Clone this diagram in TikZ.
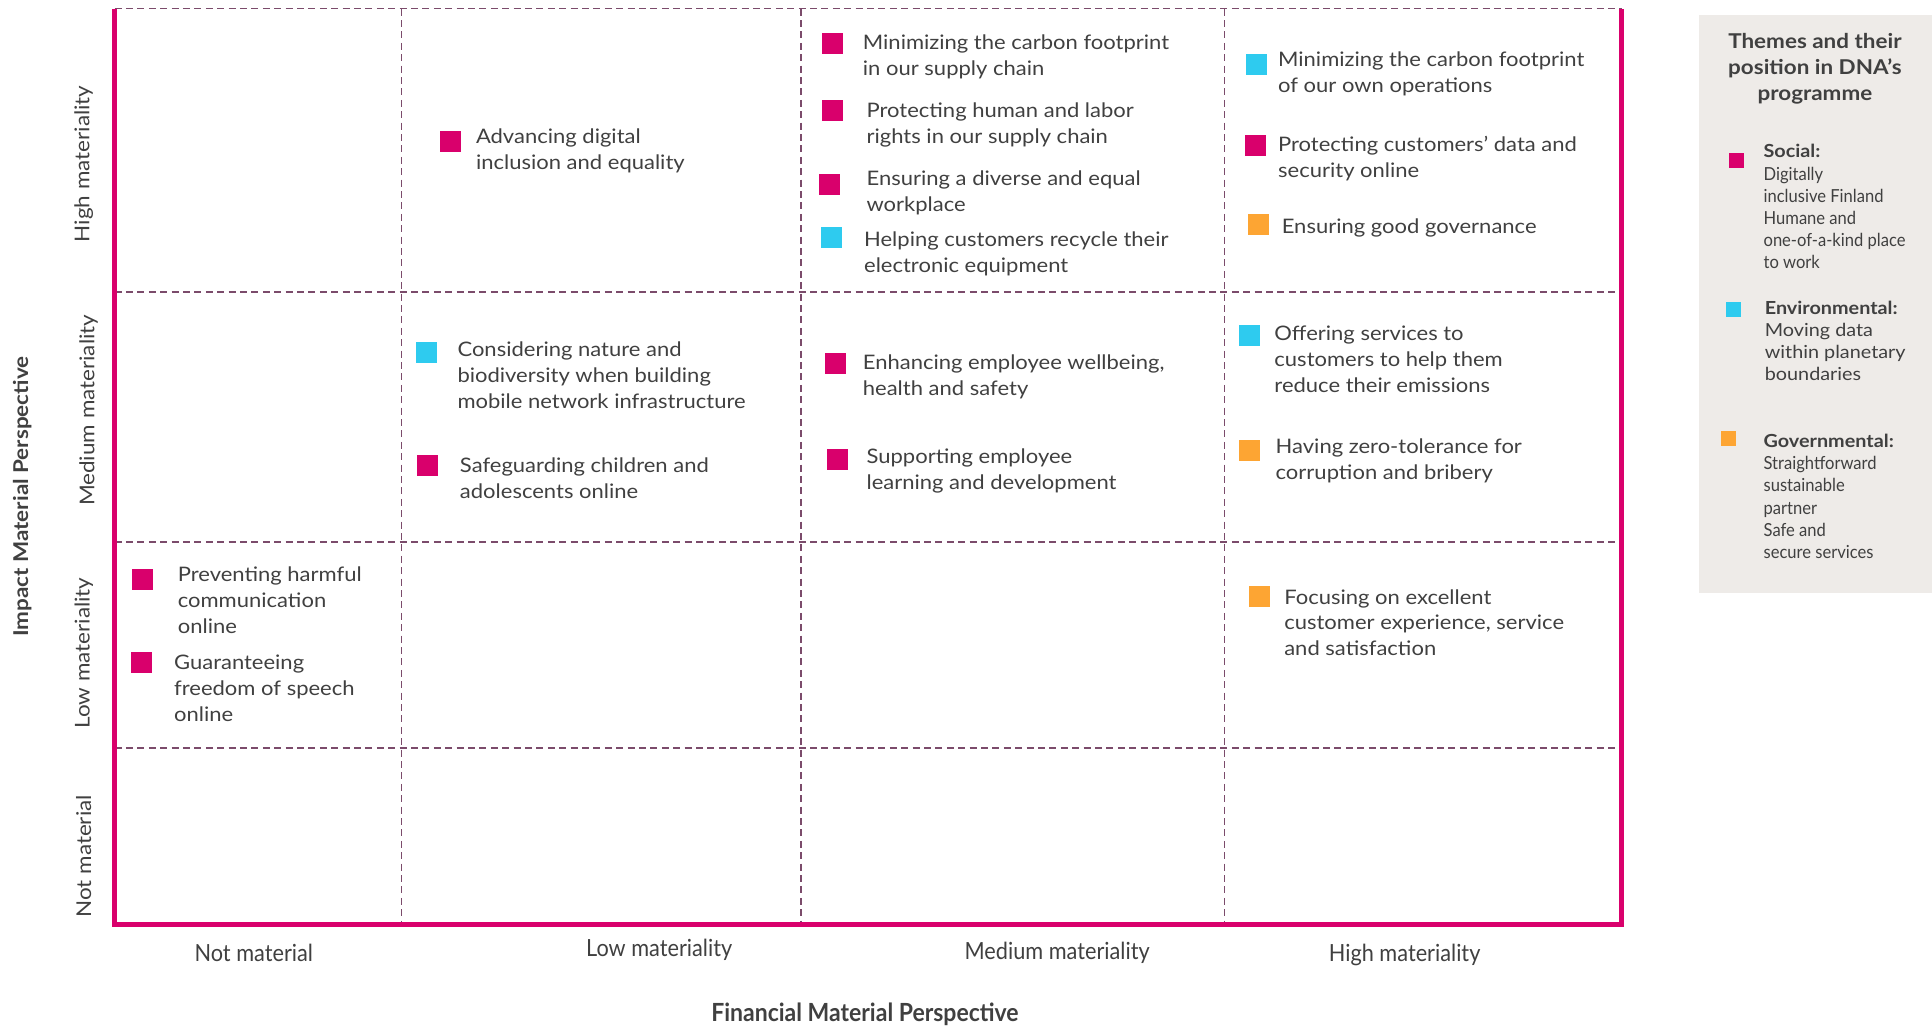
\documentclass[tikz,border=0pt]{standalone}
\usepackage{fontspec}
\setmainfont[FakeStretch=1.1]{Lato}
\newfontfamily\condfont[FakeStretch=0.92]{Lato}
\definecolor{dnamag}{HTML}{D9006C}
\definecolor{dnacyan}{HTML}{2ECBEF}
\definecolor{dnaorange}{HTML}{FDA533}
\definecolor{gridc}{HTML}{7B4B6B}
\definecolor{txt}{HTML}{404040}
\definecolor{legbg}{HTML}{EEEBE8}
\tikzset{
  sqbase/.style={draw=none,minimum size=10.5pt,inner sep=0pt,outer sep=0pt},
  sqmag/.style={sqbase,fill=dnamag},
  sqcyan/.style={sqbase,fill=dnacyan},
  sqorange/.style={sqbase,fill=dnaorange},
  lsqmag/.style={sqmag,minimum size=7.4pt},
  lsqcyan/.style={sqcyan,minimum size=7.4pt},
  lsqorange/.style={sqorange,minimum size=7.4pt},
  item/.style={anchor=north west,inner sep=0pt,align=left,text=txt,font=\fontsize{10}{12.94}\selectfont},
  legitem/.style={anchor=north west,inner sep=0pt,align=left,text=txt,font=\fontsize{9}{11.09}\selectfont},
  gridline/.style={draw=gridc,line width=0.7pt,dash pattern=on 3.5pt off 2.2pt},
  axisline/.style={draw=dnamag,line width=2.4pt},
  rowlab/.style={rotate=90,inner sep=0pt,text=txt,font=\fontsize{10.2}{12}\selectfont},
  collab/.style={inner sep=0pt,text=txt,font=\fontsize{11.8}{13}\condfont},
}
\begin{document}
\begin{tikzpicture}[x=0.61605pt,y=-0.61605pt]
\useasboundingbox (0,0) rectangle (1568,833);
% grid
\coordinate (tl) at (93,7);
\coordinate (tr) at (1316,7);
\coordinate (bl) at (93,750);
\coordinate (br) at (1316,750);
\foreach \xx in {326,650,994}{\draw[gridline] (\xx,7) -- (\xx,750);}
\foreach \yy in {237,440,607}{\draw[gridline] (93,\yy) -- (1316,\yy);}
\draw[gridline] (tl) -- (tr);
\draw[axisline] (tl) -- (bl) -- (br) -- (tr);
% axis labels
\node[rowlab] (rHigh) at (68,133) {High materiality};
\node[rowlab] (rMed) at (72,333) {Medium materiality};
\node[rowlab] (rLow) at (68,530) {Low materiality};
\node[rowlab] (rNot) at (68,695) {Not material};
\node[rowlab,font=\fontsize{10.2}{12}\bfseries] (impact) at (18,403) {Impact Material Perspective};
\node[collab] (cNot) at (206,773) {Not material};
\node[collab] (cLow) at (535,771) {Low materiality};
\node[collab] (cMed) at (858,773) {Medium materiality};
\node[collab] (cHigh) at (1140,775) {High materiality};
\node[collab,font=\fontsize{12.5}{13}\condfont\bfseries] (fin) at (702,823) {Financial Material Perspective};
% items
\node[sqmag] (a1s) at (366,115) {};
\node[item] (a1) at (386,104) {Advancing digital\\inclusion and equality};
\node[sqmag] (b1s) at (676,35) {};
\node[item] (b1) at (700,28) {Minimizing the carbon footprint\\in our supply chain};
\node[sqmag] (b2s) at (676,90) {};
\node[item] (b2) at (703,83) {Protecting human and labor\\rights in our supply chain};
\node[sqmag] (b3s) at (673,150) {};
\node[item] (b3) at (703,138) {Ensuring a diverse and equal\\workplace};
\node[sqcyan] (b4s) at (675,193) {};
\node[item] (b4) at (701,188) {Helping customers recycle their\\electronic equipment};
\node[sqcyan] (c1s) at (1020,52) {};
\node[item] (c1) at (1037,42) {Minimizing the carbon footprint\\of our own operations};
\node[sqmag] (c2s) at (1019,118) {};
\node[item] (c2) at (1037,110) {Protecting customers’ data and\\security online};
\node[sqorange] (c3s) at (1021,182) {};
\node[item] (c3) at (1040,177) {Ensuring good governance};
\node[sqcyan] (d1s) at (346,286) {};
\node[item] (d1) at (371,277) {Considering nature and\\biodiversity when building\\mobile network infrastructure};
\node[sqmag] (d2s) at (347,378) {};
\node[item] (d2) at (373,371) {Safeguarding children and\\adolescents online};
\node[sqmag] (e1s) at (678,295) {};
\node[item] (e1) at (700,288) {Enhancing employee wellbeing,\\health and safety};
\node[sqmag] (e2s) at (680,373) {};
\node[item] (e2) at (703,364) {Supporting employee\\learning and development};
\node[sqcyan] (f1s) at (1014,272) {};
\node[item] (f1) at (1034,264) {Offering services to\\customers to help them\\reduce their emissions};
\node[sqorange] (f2s) at (1014,366) {};
\node[item] (f2) at (1035,356) {Having zero-tolerance for\\corruption and bribery};
\node[sqmag] (g1s) at (116,470) {};
\node[item] (g1) at (144,460) {Preventing harmful\\communication\\online};
\node[sqmag] (g2s) at (115,538) {};
\node[item] (g2) at (141,531) {Guaranteeing\\freedom of speech\\online};
\node[sqorange] (h1s) at (1022,484) {};
\node[item] (h1) at (1042,478) {Focusing on excellent\\customer experience, service\\and satisfaction};
% legend
\fill[legbg] (1379,12) rectangle (1568,481);
\node[align=center,inner sep=0pt,text=txt,font=\fontsize{10.2}{12.94}\bfseries] (ltitle) at (1473,56) {Themes and their\\position in DNA’s\\programme};
\node[lsqmag] (ls1) at (1409,130) {};
\node[legitem] (lt1) at (1431,117) {\textbf{Social:}\\{\condfont Digitally}\\{\condfont inclusive Finland}\\{\condfont Humane and}\\{\condfont one-of-a-kind place}\\{\condfont to work}};
\node[lsqcyan] (ls2) at (1407,251) {};
\node[legitem] (lt2) at (1432,244) {\textbf{Environmental:}\\Moving data\\within planetary\\boundaries};
\node[lsqorange] (ls3) at (1403,356) {};
\node[legitem] (lt3) at (1431,352) {\textbf{Governmental:}\\{\condfont Straightforward}\\{\condfont sustainable}\\{\condfont partner}\\{\condfont Safe and}\\{\condfont secure services}};
\end{tikzpicture}
\end{document}
